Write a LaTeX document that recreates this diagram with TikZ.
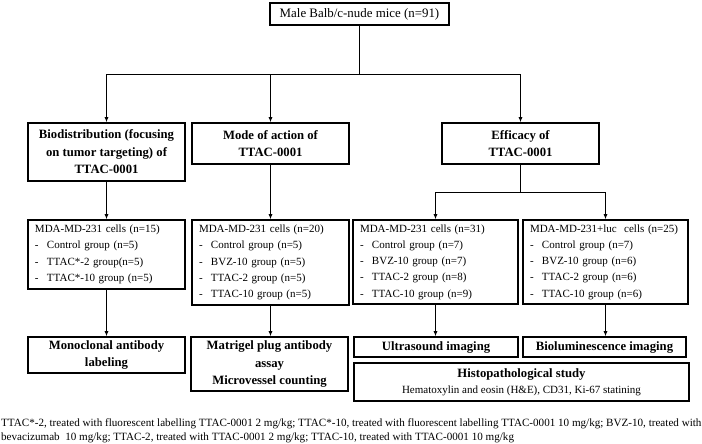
\documentclass[tikz,border=0pt]{standalone}
\usepackage{fontspec}
\setmainfont{Liberation Serif}
\usetikzlibrary{arrows.meta}

\newcommand{\boxfont}{\fontsize{11bp}{16.3bp}\selectfont}
\newcommand{\headfont}{\fontsize{12.7bp}{17.5bp}\selectfont\bfseries}
\newcommand{\notefont}{\fontsize{11.1bp}{14.8bp}\selectfont}
\newcommand{\grp}[1]{\makebox[12bp][l]{-}#1}

\tikzset{
    box/.style={draw, line width=1.6bp, inner sep=0pt, align=center},
    head/.style={box, font=\headfont},
    listbox/.style={box, align=left, font=\boxfont, inner xsep=7bp},
    link/.style={line width=0.9bp},
    arr/.style={link, -{Latex[length=5bp,width=4bp]}}
}

\begin{document}
\begin{tikzpicture}[x=1bp, y=-1bp]
    \useasboundingbox (0,0) rectangle (702,444);

    % Mice
    \node[box, font=\fontsize{12.9bp}{15bp}\selectfont, minimum width=179bp, minimum height=22bp] (mice) at (359.5,14) {Male Balb/c-nude mice (n=91)};

    % Aims of the study
    \node[head, minimum width=157bp, minimum height=58bp] (bio) at (106.5,152) {Biodistribution (focusing\\on tumor targeting) of\\TTAC-0001};
    \node[head, minimum width=157bp, minimum height=41bp] (mode) at (270.5,143.5) {Mode of action of\\TTAC-0001};
    \node[head, minimum width=157bp, minimum height=41bp] (eff) at (520.5,143.5) {Efficacy of\\TTAC-0001};

    % Groups
    \node[listbox, text width=143bp, minimum height=69bp] (mda1) at (106.5,254.5) {MDA-MD-231 cells (n=15)\\
        \grp{Control group (n=5)}\\
        \grp{TTAC*-2 group(n=5)}\\
        \grp{TTAC*-10 group (n=5)}};
    \node[listbox, text width=143bp, minimum height=85bp] (mda2) at (270.5,262.5) {MDA-MD-231 cells (n=20)\\
        \grp{Control group (n=5)}\\
        \grp{BVZ-10 group (n=5)}\\
        \grp{TTAC-2 group (n=5)}\\
        \grp{TTAC-10 group (n=5)}};
    \node[listbox, text width=151bp, minimum height=84bp] (mda3) at (435.5,262) {MDA-MD-231 cells (n=31)\\
        \grp{Control group (n=7)}\\
        \grp{BVZ-10 group (n=7)}\\
        \grp{TTAC-2 group (n=8)}\\
        \grp{TTAC-10 group (n=9)}};
    \node[listbox, text width=151bp, minimum height=84bp] (mda4) at (605.5,262) {MDA-MD-231+luc\ \ cells (n=25)\\
        \grp{Control group (n=7)}\\
        \grp{BVZ-10 group (n=6)}\\
        \grp{TTAC-2 group (n=6)}\\
        \grp{TTAC-10 group (n=6)}};

    % Read-outs
    \node[head, minimum width=157bp, minimum height=36bp] (mono) at (106.5,355) {Monoclonal antibody\\labeling};
    \node[head, minimum width=157bp, minimum height=54bp] (matri) at (269.5,364) {Matrigel plug antibody\\assay\\Microvessel counting};
    \node[head, minimum width=164bp, minimum height=20bp] (ultra) at (436,347) {Ultrasound imaging};
    \node[head, minimum width=163bp, minimum height=20bp] (biolum) at (604.5,347) {Bioluminescence imaging};
    \node[box, minimum width=335bp, minimum height=38bp] (histo) at (521.5,382) {{\headfont Histopathological study}\\[4bp]
        {\boxfont Hematoxylin and eosin (H\&E), CD31, Ki-67 statining}};

    % Connectors
    \coordinate (split) at (359.5,74);
    \coordinate (effsplit) at (520.5,192);
    \draw[link] (mice) -- (split);
    \foreach \n in {bio,mode,eff} \draw[arr] (split) -| (\n);
    \draw[link] (eff) -- (effsplit);
    \foreach \n in {mda3,mda4} \draw[arr] (effsplit) -| (\n);
    \draw[arr] (bio) -- (mda1);
    \draw[arr] (mode) -- (mda2);
    \foreach \a/\b in {mda1/mono, mda2/matri, mda3/ultra, mda4/biolum}
        \draw[arr] (\a) -- (\a |- \b.north);

    % Abbreviations
    \node[anchor=north west, inner sep=0pt, align=left, font=\notefont] (note) at (1,418) {TTAC*-2, treated with fluorescent labelling TTAC-0001 2 mg/kg; TTAC*-10, treated with fluorescent labelling TTAC-0001 10 mg/kg; BVZ-10, treated with\\
        bevacizumab\ \ 10 mg/kg; TTAC-2, treated with TTAC-0001 2 mg/kg; TTAC-10, treated with TTAC-0001 10 mg/kg};
\end{tikzpicture}
\end{document}
